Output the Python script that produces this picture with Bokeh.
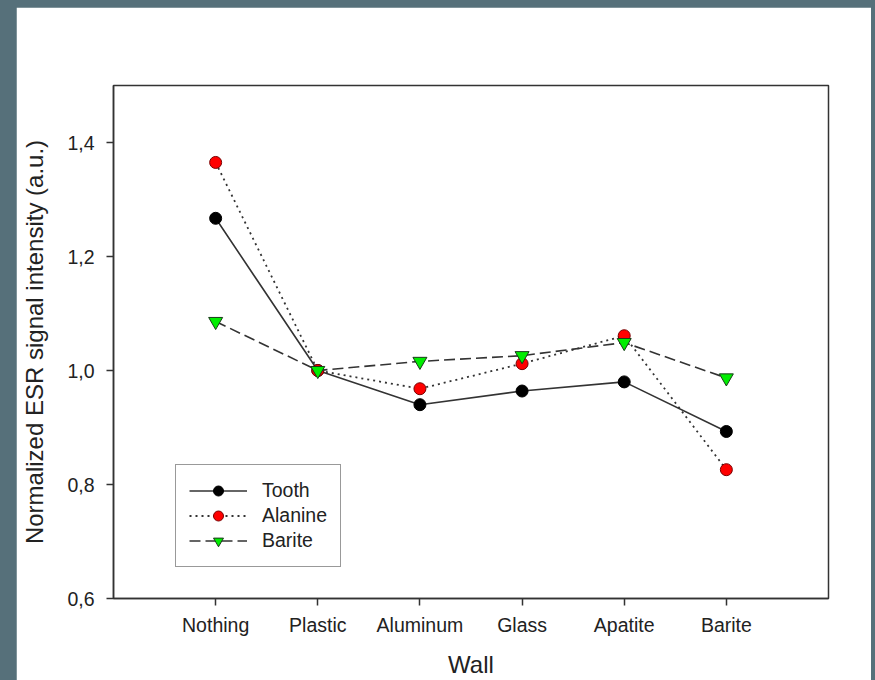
from bokeh.plotting import figure
from bokeh.models import Range1d, FixedTicker, Spacer
from bokeh.layouts import row, column
from bokeh.embed import file_html
from bokeh.resources import INLINE

# ---- data ----
categories = ["Nothing", "Plastic", "Aluminum", "Glass", "Apatite", "Barite"]
tooth = [1.267, 1.000, 0.940, 0.964, 0.980, 0.893]
alanine = [1.365, 1.000, 0.968, 1.012, 1.061, 0.826]
barite = [1.086, 1.000, 1.016, 1.026, 1.049, 0.987]
y_ticks = [0.6, 0.8, 1.0, 1.2, 1.4]
y_tick_labels = ["0,6", "0,8", "1,0", "1,2", "1,4"]

x_pos = list(range(1, len(categories) + 1))

FONT = "Liberation Sans"
TXT = "#222222"
LINE = "#333333"
BG = "#56707a"

p = figure(width=855, height=673,
           x_range=Range1d(0, len(categories) + 1), y_range=Range1d(0.6, 1.5),
           output_backend="svg", toolbar_location=None,
           min_border_left=97, min_border_right=43, min_border_top=78, min_border_bottom=82,
           background_fill_color="white", border_fill_color="white")

p.xgrid.visible = False
p.ygrid.visible = False
p.outline_line_color = LINE
p.outline_line_width = 1.5

# lines + markers
p.line(x_pos, tooth, line_color=LINE, line_width=1.6, legend_label="Tooth")
p.scatter(x_pos, tooth, marker="circle", size=12, fill_color="black", line_color="black",
          legend_label="Tooth")

p.line(x_pos, alanine, line_color=LINE, line_width=1.8, line_dash="2 4", legend_label="Alanine")
p.scatter(x_pos, alanine, marker="circle", size=12, fill_color="#ff0000", line_color="#7a0000",
          line_width=1, legend_label="Alanine")

p.line(x_pos, barite, line_color=LINE, line_width=1.6, line_dash="11 5", legend_label="Barite")
p.scatter(x_pos, barite, marker="inverted_triangle", size=14, fill_color="#00ee00",
          line_color="#1a3a1a", line_width=1, legend_label="Barite")

# axes
xa = p.xaxis[0]
xa.ticker = FixedTicker(ticks=x_pos)
xa.major_label_overrides = {i: c for i, c in zip(x_pos, categories)}
xa.axis_label = "Wall"
ya = p.yaxis[0]
ya.ticker = FixedTicker(ticks=y_ticks)
ya.major_label_overrides = {v: t for v, t in zip(y_ticks, y_tick_labels)}
ya.axis_label = "Normalized ESR signal intensity (a.u.)"

for ax in (xa, ya):
    ax.minor_tick_line_color = None
    ax.major_tick_in = 0
    ax.major_tick_out = 7
    ax.major_tick_line_color = LINE
    ax.major_tick_line_width = 1.5
    ax.axis_line_color = LINE
    ax.axis_line_width = 1.5
    ax.major_label_text_font = FONT
    ax.major_label_text_font_size = "19.5px"
    ax.major_label_text_color = TXT
    ax.axis_label_text_font = FONT
    ax.axis_label_text_font_size = "24px"
    ax.axis_label_text_font_style = "normal"
    ax.axis_label_text_color = TXT

xa.major_label_standoff = 8
xa.axis_label_standoff = 12
ya.major_label_standoff = 12
ya.axis_label_standoff = 16

# legend
lg = p.legend[0]
lg.location = (62, 31)
lg.border_line_color = LINE
lg.border_line_width = 1.5
lg.background_fill_color = "white"
lg.background_fill_alpha = 1
lg.label_text_font = FONT
lg.label_text_font_size = "19.5px"
lg.label_text_color = TXT
lg.glyph_width = 58
lg.glyph_height = 25
lg.label_height = 25
lg.spacing = 0
lg.padding = 13
lg.margin = 0
lg.label_standoff = 15

layout = column(Spacer(width=871, height=7), row(Spacer(width=16, height=673), p))

html = file_html(layout, INLINE)
html = html.replace("</head>",
                    "<style>html,body{background-color:%s;overflow:hidden;}</style></head>" % BG, 1)
open("out.html", "w").write(html)
